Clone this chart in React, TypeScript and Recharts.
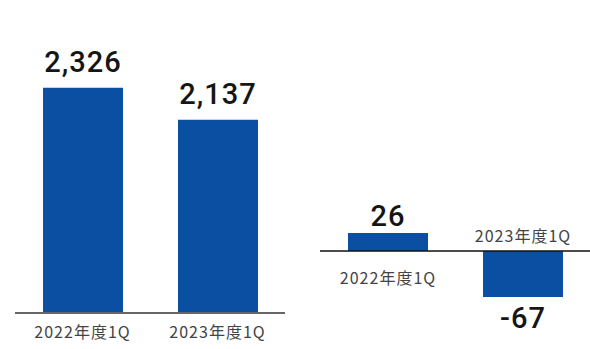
import { BarChart, Bar, XAxis, YAxis, LabelList, ReferenceLine } from "recharts";

const periods = ["2022年度1Q", "2023年度1Q"];
const salesValues = [2326, 2137];
const profitValues = [26, -67];

const BLUE = "#0b4fa3";
const VALUE_FONT = "Roboto, 'Noto Sans', sans-serif";
const LABEL_FONT = "'Noto Sans CJK JP', 'Noto Sans', sans-serif";

const salesData = periods.map((p, i) => ({ name: p, value: salesValues[i] }));
const profitData = periods.map((p, i) => ({ name: p, value: profitValues[i] }));

const fmt = (v: number) => v.toLocaleString("en-US");

const ValueText = ({ x, y, text }: { x: number; y: number; text: string }) => (
  <text
    x={x}
    y={y}
    textAnchor="middle"
    dominantBaseline="central"
    fontFamily={VALUE_FONT}
    fontWeight={500}
    fontSize={29}
    letterSpacing={1}
    fill="#151515"
  >
    {text}
  </text>
);

const CatText = ({ x, y, text }: { x: number; y: number; text: string }) => (
  <text
    x={x}
    y={y}
    textAnchor="middle"
    dominantBaseline="central"
    fontFamily={LABEL_FONT}
    fontSize={16}
    letterSpacing={1}
    fill="#444"
  >
    {text}
  </text>
);

const SalesLabel = (props: any) => {
  const { x, y, width, value } = props;
  return <ValueText x={x + width / 2} y={y - 26} text={fmt(value)} />;
};

const SalesTick = (props: any) => {
  const { x, y, payload } = props;
  return <CatText x={x} y={y + 18} text={payload.value} />;
};

const ProfitLabel = (props: any) => {
  const { x, y, width, height, value, index } = props;
  const top = Math.min(y, y + height);
  const bottom = Math.max(y, y + height);
  const cx = x + width / 2;
  const name = periods[index];
  if (value >= 0) {
    return (
      <g>
        <ValueText x={cx} y={top - 17} text={fmt(value)} />
        <CatText x={cx} y={bottom + 26} text={name} />
      </g>
    );
  }
  return (
    <g>
      <ValueText x={cx} y={bottom + 21} text={fmt(value)} />
      <CatText x={cx} y={top - 16} text={name} />
    </g>
  );
};

export default function App() {
  return (
    <div
      style={{
        position: "fixed",
        left: 0,
        top: 0,
        width: 590,
        height: 349,
        background: "#fff",
      }}
    >
      <div style={{ position: "absolute", left: 0, top: 0 }}>
        <BarChart
          width={300}
          height={349}
          data={salesData}
          margin={{ top: 20, right: 15, bottom: 0, left: 15 }}
        >
          <XAxis
            dataKey="name"
            height={36}
            tickLine={false}
            tickSize={0}
            tickMargin={0}
            axisLine={{ stroke: "#666", strokeWidth: 2 }}
            tick={<SalesTick />}
            interval={0}
          />
          <YAxis hide type="number" domain={[1000, 2725]} allowDataOverflow />
          <Bar dataKey="value" fill={BLUE} barSize={80} isAnimationActive={false}>
            <LabelList dataKey="value" content={<SalesLabel />} />
          </Bar>
        </BarChart>
      </div>
      <div style={{ position: "absolute", left: 320, top: 0 }}>
        <BarChart
          width={270}
          height={349}
          data={profitData}
          margin={{ top: 0, right: 0, bottom: 0, left: 0 }}
        >
          <XAxis dataKey="name" hide />
          <YAxis hide type="number" domain={[-143, 366]} allowDataOverflow />
          <ReferenceLine y={0} stroke="#111" strokeWidth={1.5} />
          <Bar dataKey="value" fill={BLUE} barSize={80} isAnimationActive={false}>
            <LabelList dataKey="value" content={<ProfitLabel />} />
          </Bar>
        </BarChart>
      </div>
    </div>
  );
}
